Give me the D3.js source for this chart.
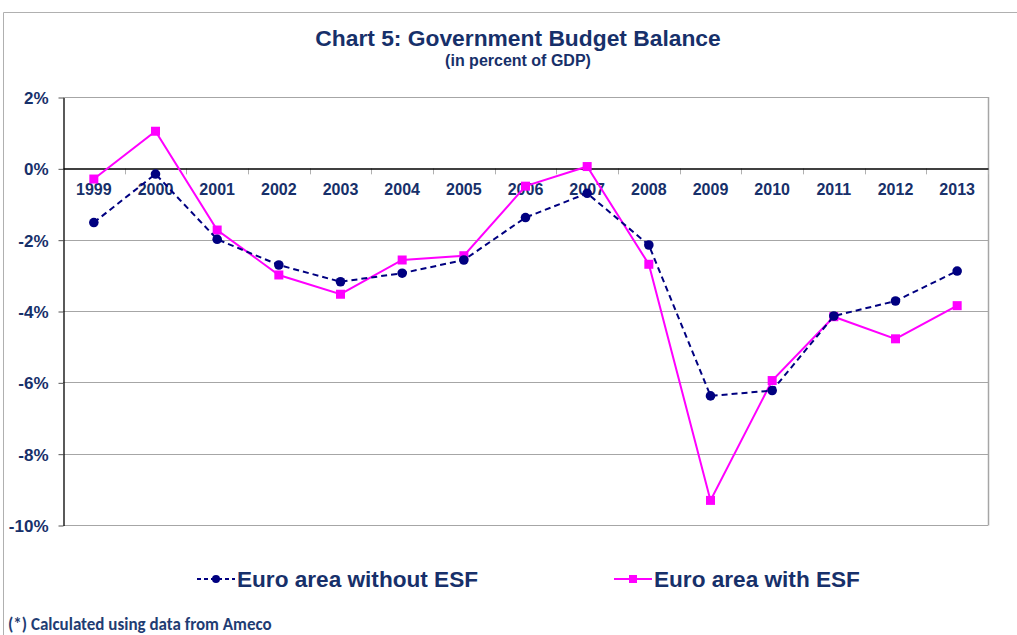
<!doctype html>
<html>
<head>
<meta charset="UTF-8">
<title>Chart 5: Government Budget Balance</title>
<script src="https://cdn.jsdelivr.net/npm/d3@7"></script>
<style>
    body { margin: 0; background: #fff; }
    svg { font-family: "Liberation Sans", Arial, sans-serif; }
    .lbl { fill: #17306a; font-weight: bold; }
</style>
</head>
<body>
<svg id="chart" width="1017" height="635"></svg>
<script>
    // data
    var years = ["1999", "2000", "2001", "2002", "2003", "2004", "2005", "2006",
                 "2007", "2008", "2009", "2010", "2011", "2012", "2013"];
    var withoutEsf = [-1.52, -0.16, -1.99, -2.71, -3.18, -2.94, -2.57, -1.38,
                      -0.70, -2.15, -6.38, -6.23, -4.14, -3.72, -2.88];
    var withEsf = [-0.30, 1.04, -1.73, -2.99, -3.53, -2.57, -2.45, -0.50,
                   0.05, -2.69, -9.31, -5.95, -4.16, -4.78, -3.85];
    var yTicks = [2, 0, -2, -4, -6, -8, -10];

    var svg = d3.select("#chart");
    var pLeft = 63, pRight = 988, pTop = 97, pBottom = 525;

    // outer frame
    svg.append("path")
        .attr("d", "M3.5,635 V12.5 H1017")
        .attr("fill", "none")
        .attr("stroke", "#b0b0b0");

    var x = d3.scaleBand().domain(years).range([pLeft, pRight]);
    var y = d3.scaleLinear().domain([-10, 2]).range([pBottom, pTop]);

    // grid
    svg.append("g").selectAll("line")
        .data(yTicks.filter(function(d) { return d !== 0; }))
        .enter().append("line")
        .attr("x1", pLeft).attr("x2", pRight)
        .attr("y1", function(d) { return Math.round(y(d)) + 0.5; })
        .attr("y2", function(d) { return Math.round(y(d)) + 0.5; })
        .attr("stroke", "#a6a6a6");

    svg.append("line")
        .attr("x1", pRight + 0.5).attr("x2", pRight + 0.5)
        .attr("y1", pTop).attr("y2", pBottom + 0.5)
        .attr("stroke", "#a6a6a6")
        .attr("stroke-width", 1.5);

    // y axis
    var yAxis = svg.append("g")
        .attr("transform", "translate(" + (pLeft + 0.5) + ",0.5)")
        .call(d3.axisLeft(y).tickValues(yTicks).tickSize(5).tickSizeOuter(0).tickPadding(10)
            .tickFormat(function(d) { return d + "%"; }));
    yAxis.select(".domain").attr("stroke", "#000").attr("stroke-width", 1.3);
    yAxis.selectAll(".tick line").attr("stroke", "#555");
    yAxis.selectAll("text")
        .attr("class", "lbl")
        .style("font-size", "17px")
        .attr("dy", "0.35em");

    // category boundary ticks
    svg.append("g").selectAll("line")
        .data(years.slice(1).concat(["end"]))
        .enter().append("line")
        .attr("x1", function(d, i) { return Math.round(pLeft + (i + 1) * x.step()) + 0.5; })
        .attr("x2", function(d, i) { return Math.round(pLeft + (i + 1) * x.step()) + 0.5; })
        .attr("y1", y(0)).attr("y2", y(0) + 6)
        .attr("stroke", "#b0b0b0");

    // x axis on the zero line
    var xAxis = svg.append("g")
        .attr("transform", "translate(0," + (Math.round(y(0)) + 0.5) + ")")
        .call(d3.axisBottom(x).tickSize(0).tickPadding(15));
    xAxis.select(".domain").attr("stroke", "#000").attr("stroke-width", 1.5);
    xAxis.selectAll("text")
        .attr("class", "lbl")
        .style("font-size", "16px");

    function cx(d, i) { return x(years[i]) + x.bandwidth() / 2; }

    var line = d3.line()
        .x(function(d, i) { return cx(d, i); })
        .y(function(d) { return y(d); });

    // with ESF
    svg.append("path")
        .datum(withEsf)
        .attr("d", line)
        .attr("fill", "none")
        .attr("stroke", "#ff00ff")
        .attr("stroke-width", 2);

    svg.append("g").selectAll("rect")
        .data(withEsf)
        .enter().append("rect")
        .attr("x", function(d, i) { return cx(d, i) - 4.5; })
        .attr("y", function(d) { return y(d) - 4.5; })
        .attr("width", 9).attr("height", 9)
        .attr("fill", "#ff00ff");

    // without ESF
    svg.append("path")
        .datum(withoutEsf)
        .attr("d", line)
        .attr("fill", "none")
        .attr("stroke", "#000080")
        .attr("stroke-width", 2)
        .attr("stroke-dasharray", "6,4");

    svg.append("g").selectAll("circle")
        .data(withoutEsf)
        .enter().append("circle")
        .attr("cx", function(d, i) { return cx(d, i); })
        .attr("cy", function(d) { return y(d); })
        .attr("r", 4.8)
        .attr("fill", "#000080");

    // titles
    svg.append("text")
        .attr("class", "lbl")
        .attr("x", 518).attr("y", 46)
        .attr("text-anchor", "middle")
        .style("font-size", "22.8px")
        .text("Chart 5: Government Budget Balance");

    svg.append("text")
        .attr("class", "lbl")
        .attr("x", 518).attr("y", 66)
        .attr("text-anchor", "middle")
        .style("font-size", "16px")
        .text("(in percent of GDP)");

    // legend
    var lg1 = svg.append("g").attr("transform", "translate(197,579)");
    lg1.append("line").attr("x1", 0).attr("x2", 38).attr("y1", 0).attr("y2", 0)
        .attr("stroke", "#000080").attr("stroke-width", 2).attr("stroke-dasharray", "4,3");
    lg1.append("circle").attr("cx", 19).attr("cy", 0).attr("r", 4).attr("fill", "#000080");
    lg1.append("text").attr("class", "lbl").attr("x", 40).attr("y", 8)
        .style("font-size", "22.6px").text("Euro area without ESF");

    var lg2 = svg.append("g").attr("transform", "translate(614,579)");
    lg2.append("line").attr("x1", 0).attr("x2", 38).attr("y1", 0).attr("y2", 0)
        .attr("stroke", "#ff00ff").attr("stroke-width", 2);
    lg2.append("rect").attr("x", 15).attr("y", -4).attr("width", 8).attr("height", 8).attr("fill", "#ff00ff");
    lg2.append("text").attr("class", "lbl").attr("x", 40).attr("y", 8)
        .style("font-size", "22.6px").text("Euro area with ESF");

    // footnote
    svg.append("text")
        .attr("x", 8).attr("y", 630)
        .attr("fill", "#1f3d73")
        .style("font-family", "Carlito, Calibri, 'Open Sans', sans-serif")
        .style("font-weight", "bold")
        .style("font-size", "17px")
        .text("(*) Calculated using data from Ameco");
</script>
</body>
</html>
